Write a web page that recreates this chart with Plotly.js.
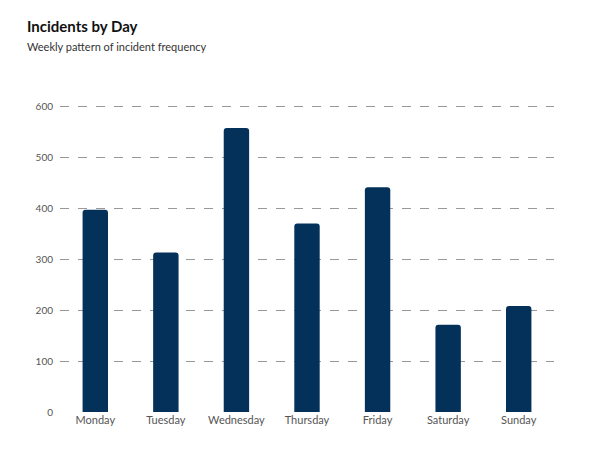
<!DOCTYPE html>
<html>
<head>
<script src="https://cdn.plot.ly/plotly-3.0.1.min.js"></script>
<style>body{margin:0}</style>
</head>
<body>
<div id="chart" style="width:612px;height:450px"></div>
<script>
const days = ['Monday', 'Tuesday', 'Wednesday', 'Thursday', 'Friday', 'Saturday', 'Sunday'];
const incidents = [397, 313, 557, 370, 441, 171, 208];

const trace = {
    type: 'bar',
    x: days,
    y: incidents,
    marker: { color: '#03315a' },
    hoverinfo: 'x+y'
};

const layout = {
    width: 612,
    height: 450,
    margin: { l: 60, r: 58, t: 96, b: 38 },
    font: { family: 'Lato, sans-serif', color: '#555' },
    title: {
        text: '<b>Incidents by Day</b><br><span style="font-size:11px;color:#333">Weekly pattern of incident frequency</span>',
        x: 0, xref: 'paper', xanchor: 'left', y: 0.93, yanchor: 'top',
        font: { size: 15, color: '#111' },
        pad: { l: -33 }
    },
    bargap: 0.64,
    barcornerradius: 3,
    xaxis: { tickfont: { size: 11, color: '#555' }, showline: false, ticks: '' },
    yaxis: {
        range: [0, 620],
        tickvals: [0, 100, 200, 300, 400, 500, 600],
        tickfont: { size: 10, color: '#555' },
        gridcolor: '#999', griddash: 'dash', gridwidth: 1,
        zeroline: false, ticks: '', ticklabelstandoff: 6
    },
    plot_bgcolor: 'white',
    paper_bgcolor: 'white',
    showlegend: false
};

Plotly.newPlot('chart', [trace], layout, { displayModeBar: false });
</script>
</body>
</html>
